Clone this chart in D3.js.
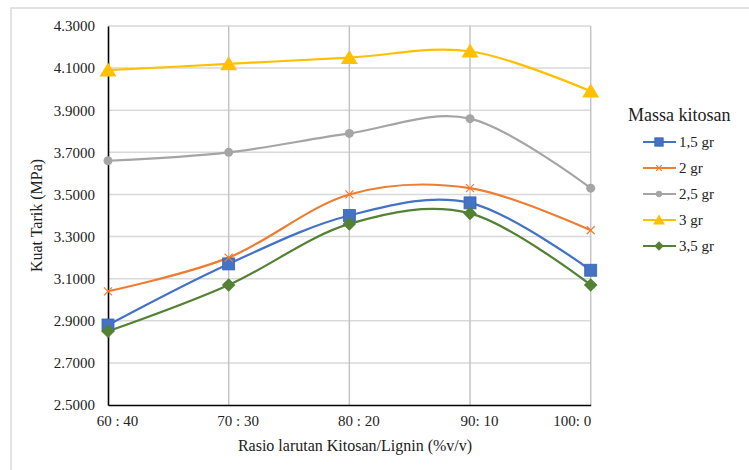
<!DOCTYPE html>
<html><head><meta charset="utf-8">
<script src="https://cdn.jsdelivr.net/npm/d3@7"></script>
<style>
body{margin:0;background:#fff;}
svg text{font-family:"Liberation Serif","Times New Roman",serif !important;}
</style></head>
<body>
<svg id="chart" width="749" height="470"></svg>
<script>
const categories = ["60 : 40", "70 : 30", "80 : 20", "90: 10", "100: 0"];
const seriesNames = ["1,5 gr", "2 gr", "2,5 gr", "3 gr", "3,5 gr"];
const s15 = [2.88, 3.17, 3.40, 3.46, 3.14];
const s2  = [3.04, 3.20, 3.50, 3.53, 3.33];
const s25 = [3.66, 3.70, 3.79, 3.86, 3.53];
const s3  = [4.09, 4.12, 4.15, 4.18, 3.99];
const s35 = [2.85, 3.07, 3.36, 3.41, 3.07];
const yTicks = [2.5, 2.7, 2.9, 3.1, 3.3, 3.5, 3.7, 3.9, 4.1, 4.3];
const colors = ["#4472C4", "#ED7D31", "#A5A5A5", "#FFC000", "#548235"];
const markers = ["square", "x", "circle", "triangle", "diamond"];
const xTitle = "Rasio larutan Kitosan/Lignin (%v/v)";
const yTitle = "Kuat Tarik (MPa)";
const legendTitle = "Massa kitosan";

const series = [s15, s2, s25, s3, s35].map((v, i) => ({name: seriesNames[i], values: v, color: colors[i], marker: markers[i]}));

const svg = d3.select("#chart");
svg.append("rect").attr("x", 11).attr("y", 8).attr("width", 745).attr("height", 470)
  .attr("fill", "none").attr("stroke", "#d9d9d9").attr("stroke-width", 1.5);

const L = 108, R = 590.7, T = 26, B = 405;
const x = d3.scalePoint().domain(categories).range([L, R]);
const y = d3.scaleLinear().domain([2.5, 4.3]).range([B, T]);

svg.append("g").selectAll("line").data(yTicks.slice(1)).join("line")
  .attr("x1", L).attr("x2", R).attr("y1", d => y(d)).attr("y2", d => y(d))
  .attr("stroke", "#d9d9d9").attr("stroke-width", 1.5);
svg.append("g").selectAll("line").data(categories.slice(1)).join("line")
  .attr("x1", d => x(d)).attr("x2", d => x(d)).attr("y1", T).attr("y2", B)
  .attr("stroke", "#c4c4c4").attr("stroke-width", 1.5);

const yAxis = d3.axisLeft(y).tickValues(yTicks).tickFormat(d3.format(".4f")).tickSize(0).tickPadding(13);
const gy = svg.append("g").attr("transform", `translate(${L},0)`).call(yAxis);
gy.select(".domain").attr("stroke", "#000").attr("stroke-width", 1.6);
gy.selectAll("text").attr("font-size", 15).attr("fill", "#222");

const xAxis = d3.axisBottom(x).tickSize(0).tickPadding(10);
const gx = svg.append("g").attr("transform", `translate(0,${B})`).call(xAxis);
gx.select(".domain").attr("stroke", "#000").attr("stroke-width", 1.6);
gx.selectAll("text").attr("font-size", 15).attr("fill", "#222")
  .attr("dx", (d, i) => i === categories.length - 1 ? 0 : 9)
  .attr("text-anchor", (d, i) => i === categories.length - 1 ? "end" : "middle");

svg.append("text").attr("x", 355).attr("y", 451).attr("text-anchor", "middle")
  .attr("font-size", 16).attr("fill", "#222").text(xTitle);
svg.append("text").attr("transform", `translate(42,${(T + B) / 2}) rotate(-90)`).attr("text-anchor", "middle")
  .attr("font-size", 16).attr("fill", "#222").text(yTitle);

const line = d3.line().x((d, i) => x(categories[i])).y(d => y(d)).curve(d3.curveCatmullRom.alpha(0));
svg.append("g").selectAll("path").data(series).join("path")
  .attr("d", d => line(d.values)).attr("fill", "none").attr("stroke", d => d.color).attr("stroke-width", 2.2);

function drawMarker(g, type, color, cx, cy, s) {
  if (type === "square") {
    g.append("rect").attr("x", cx - 6 * s).attr("y", cy - 6 * s).attr("width", 12 * s).attr("height", 12 * s)
      .attr("fill", color).attr("stroke", "#3a64b0").attr("stroke-width", 0.8);
  } else if (type === "x") {
    const r = 4 * s;
    g.append("path").attr("d", `M${cx - r},${cy - r}L${cx + r},${cy + r}M${cx - r},${cy + r}L${cx + r},${cy - r}`)
      .attr("stroke", color).attr("stroke-width", 1.2).attr("fill", "none");
  } else if (type === "circle") {
    g.append("circle").attr("cx", cx).attr("cy", cy).attr("r", 4.5 * s).attr("fill", color);
  } else if (type === "triangle") {
    const w = 8.5 * s, h = 14 * s;
    g.append("path").attr("d", `M${cx},${cy - h * 0.55}L${cx + w},${cy + h * 0.45}L${cx - w},${cy + h * 0.45}Z`).attr("fill", color);
  } else if (type === "diamond") {
    const r = 6.8 * s;
    g.append("path").attr("d", `M${cx},${cy - r}L${cx + r},${cy}L${cx},${cy + r}L${cx - r},${cy}Z`).attr("fill", color);
  }
}

series.forEach(sr => {
  const g = svg.append("g");
  sr.values.forEach((v, i) => drawMarker(g, sr.marker, sr.color, x(categories[i]), y(v), 1));
});

const lg = svg.append("g");
lg.append("text").attr("x", 628).attr("y", 121).attr("font-size", 18).attr("fill", "#222").text(legendTitle);
series.forEach((sr, i) => {
  const cy = 142 + i * 26;
  lg.append("line").attr("x1", 643).attr("x2", 676).attr("y1", cy).attr("y2", cy)
    .attr("stroke", sr.color).attr("stroke-width", 2.2);
  drawMarker(lg, sr.marker, sr.color, 659, cy, 0.7);
  lg.append("text").attr("x", 679).attr("y", cy + 5).attr("font-size", 15).attr("fill", "#222").text(sr.name);
});
</script>
</body></html>
